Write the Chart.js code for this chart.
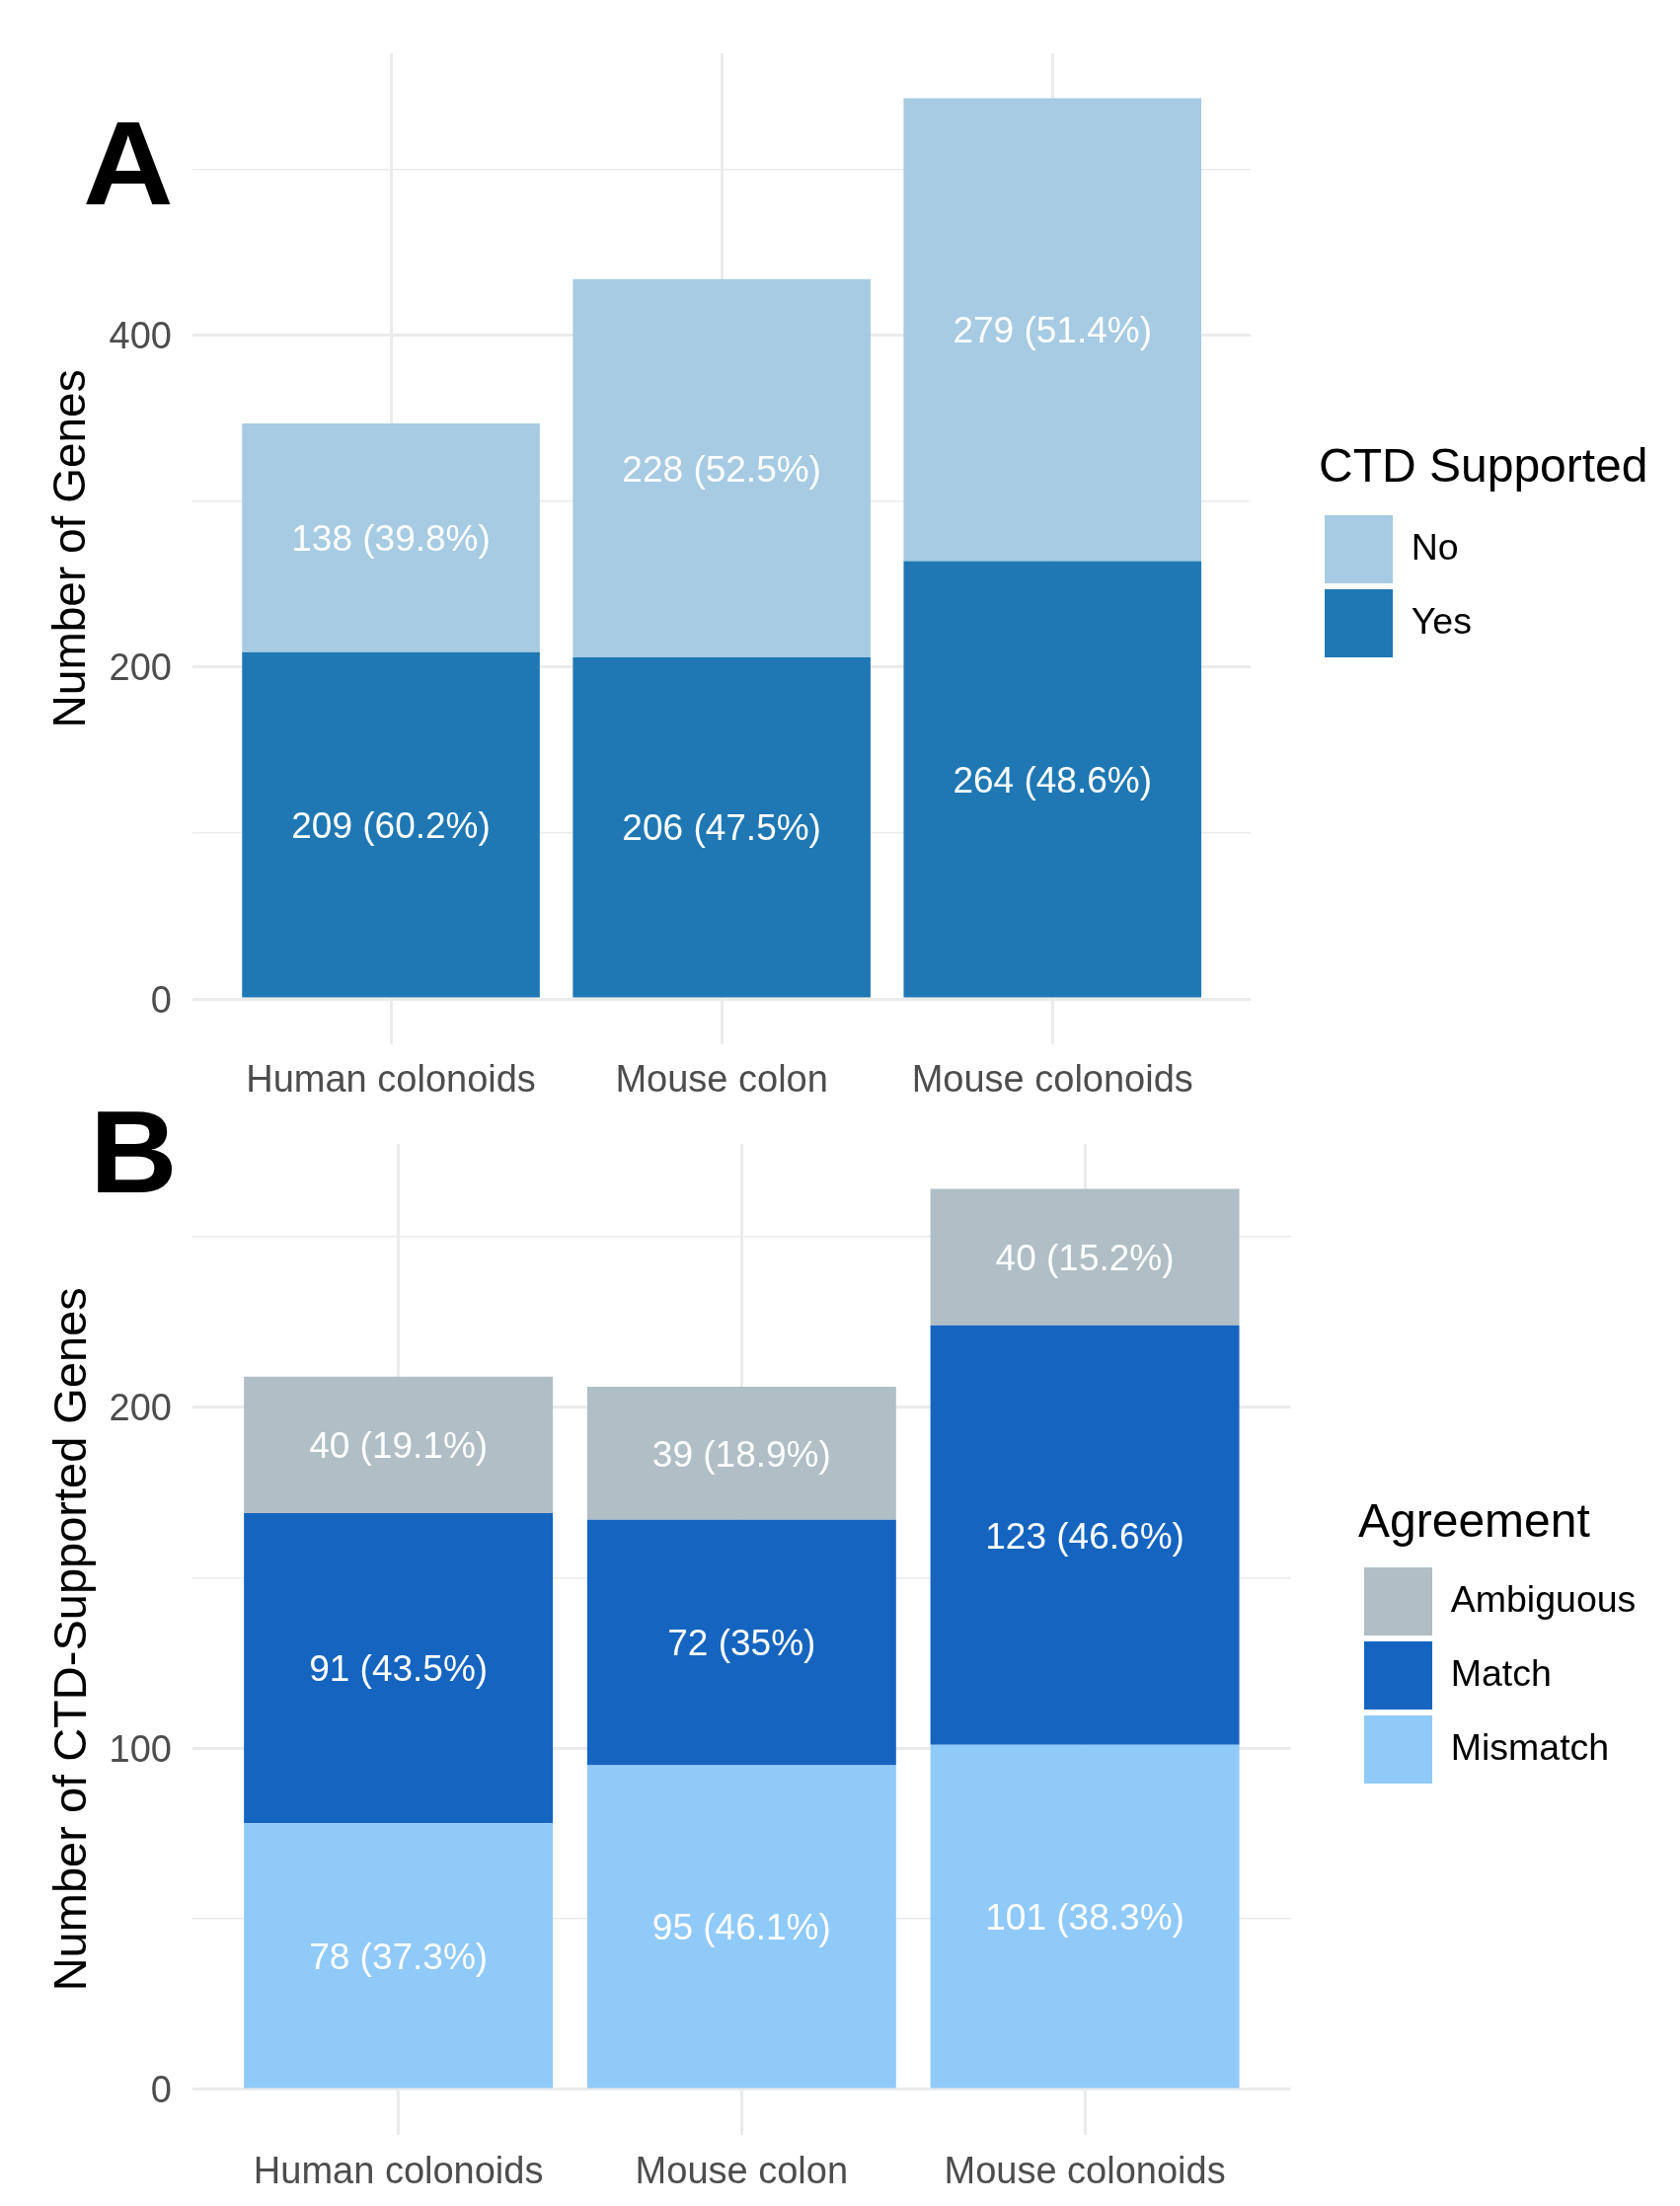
<!DOCTYPE html>
<html lang="en">
<head>
  <meta charset="UTF-8">
  <title>CTD supported genes</title>
  <script src="https://cdn.jsdelivr.net/npm/chart.js"></script>
  <style>
    body {
      margin: 0;
      background: #fff;
      width: 1702px;
      height: 2235px;
      position: relative;
      overflow: hidden;
      font-family: 'Liberation Sans', Arial, sans-serif;
    }
    canvas { position: absolute; left: 0; }
    #chartA { top: 0; }
    #chartB { top: 1110px; }
    .tag {
      position: absolute;
      font-weight: bold;
      line-height: 1;
      color: #000;
      transform-origin: left top;
    }
  </style>
</head>
<body>
  <canvas id="chartA" width="1702" height="1130"></canvas>
  <canvas id="chartB" width="1702" height="1125"></canvas>
  <div class="tag" style="left:84px; top:105px; font-size:121px; transform:scaleX(1.05)">A</div>
  <div class="tag" style="left:91px; top:1108px; font-size:118px; transform:scaleX(1.04)">B</div>

  <script>
    const categories = ['Human colonoids', 'Mouse colon', 'Mouse colonoids'];

    // panel A: genes with / without CTD support
    const ctdYes = [209, 206, 264];
    const ctdNo = [138, 228, 279];
    const ticksA = [0, 100, 200, 300, 400, 500];

    // panel B: agreement of the CTD-supported genes
    const mismatch = [78, 95, 101];
    const match = [91, 72, 123];
    const ambiguous = [40, 39, 40];
    const ticksB = [0, 50, 100, 150, 200, 250];

    Chart.defaults.font.family = "'Liberation Sans', Arial, sans-serif";

    const toPoints = arr => arr.map((v, i) => ({ x: i + 1, y: v }));

    // "n (p%)" in the middle of every segment
    const barLabels = {
      id: 'barLabels',
      afterDatasetsDraw(chart) {
        const ctx = chart.ctx;
        const sets = chart.data.datasets;
        const totals = categories.map((_, i) => sets.reduce((s, d) => s + d.data[i].y, 0));
        ctx.save();
        ctx.font = "37px 'Liberation Sans', Arial, sans-serif";
        ctx.fillStyle = '#ffffff';
        ctx.textAlign = 'center';
        ctx.textBaseline = 'middle';
        sets.forEach((ds, di) => {
          chart.getDatasetMeta(di).data.forEach((bar, i) => {
            const v = ds.data[i].y;
            const pct = Math.round(v / totals[i] * 1000) / 10;
            ctx.fillText(v + ' (' + pct + '%)', bar.x, (bar.y + bar.base) / 2 + 3);
          });
        });
        ctx.restore();
      }
    };

    // the legend takes no room in the layout; put it where ggplot had it
    const legendPlace = {
      id: 'legendPlace',
      afterLayout(chart, args, opts) {
        const lg = chart.legend;
        lg.left = opts.left;
        lg.right = chart.width;
        lg.width = lg.right - lg.left;
      }
    };

    function makeChart(id, datasets, cfg) {
      const top = Math.max(...categories.map((_, i) => datasets.reduce((s, d) => s + d.data[i].y, 0)));
      return new Chart(document.getElementById(id), {
        type: 'bar',
        data: { datasets: datasets },
        plugins: [barLabels, legendPlace],
        options: {
          responsive: false,
          animation: false,
          devicePixelRatio: 1,
          events: [],
          layout: { padding: { top: cfg.padTop, left: 0, right: 1701 - cfg.plotRight, bottom: 0 } },
          datasets: { bar: { barPercentage: 0.9, categoryPercentage: 1, borderWidth: 0 } },
          plugins: {
            tooltip: { enabled: false },
            legendPlace: { left: cfg.legendLeft },
            legend: {
              position: 'right',
              align: 'start',
              reverse: true,
              maxWidth: 1,
              title: {
                display: true,
                text: cfg.legendTitle,
                color: '#000',
                position: 'start',
                font: { size: 48 },
                padding: { top: cfg.legendTitleTop, bottom: cfg.legendTitleBottom }
              },
              labels: { boxWidth: 69, boxHeight: 69, padding: 6, color: '#000', font: { size: 37.5 } }
            }
          },
          scales: {
            x: {
              type: 'linear',
              min: 0.4,
              max: 3.6,
              bounds: 'data',
              offset: false,
              stacked: true,
              grid: { offset: false, color: '#ebebeb', lineWidth: 3, drawTicks: false },
              border: { display: false },
              afterBuildTicks: s => { s.ticks = categories.map((_, i) => ({ value: i + 1 })); },
              ticks: {
                padding: cfg.xPad,
                color: '#4d4d4d',
                font: { size: 38 },
                autoSkip: false,
                maxRotation: 0,
                callback: v => categories[v - 1]
              },
              afterFit: s => { s.height = cfg.xHeight; }
            },
            y: {
              stacked: true,
              min: -top * 0.05,
              max: top * 1.05,
              bounds: 'data',
              grid: {
                color: '#ebebeb',
                lineWidth: c => (c.tick && c.tick.value % cfg.major === 0) ? 3 : 1.5,
                drawTicks: false
              },
              border: { display: false },
              afterBuildTicks: s => { s.ticks = cfg.ticks.map(v => ({ value: v })); },
              ticks: {
                padding: 21,
                labelOffset: 3,
                color: '#4d4d4d',
                font: { size: 38 },
                autoSkip: false,
                callback: v => (v % cfg.major === 0 ? v : '')
              },
              title: {
                display: true,
                text: cfg.yTitle,
                color: '#000',
                font: { size: cfg.yTitleSize },
                padding: { top: 46, bottom: 0 }
              },
              afterFit: s => { s.width = 195; }
            }
          }
        }
      });
    }

    makeChart('chartA', [
      { label: 'Yes', data: toPoints(ctdYes), backgroundColor: '#1f78b4' },
      { label: 'No', data: toPoints(ctdNo), backgroundColor: '#a6cbe2' }
    ], {
      padTop: 54, xHeight: 72.3, xPad: 15, ticks: ticksA, major: 200, plotRight: 1267.3,
      yTitle: 'Number of Genes', yTitleSize: 46,
      legendTitle: 'CTD Supported', legendTitleTop: 396.5, legendTitleBottom: 8,
      legendLeft: 1336
    });

    makeChart('chartB', [
      { label: 'Mismatch', data: toPoints(mismatch), backgroundColor: '#90caf9' },
      { label: 'Match', data: toPoints(match), backgroundColor: '#1565c0' },
      { label: 'Ambiguous', data: toPoints(ambiguous), backgroundColor: '#b0bec5' }
    ], {
      padTop: 49, xHeight: 72.5, xPad: 16, ticks: ticksB, major: 100, plotRight: 1307.7,
      yTitle: 'Number of CTD-Supported Genes', yTitleSize: 47,
      legendTitle: 'Agreement', legendTitleTop: 360.5, legendTitleBottom: 4.8,
      legendLeft: 1376
    });
  </script>
</body>
</html>
